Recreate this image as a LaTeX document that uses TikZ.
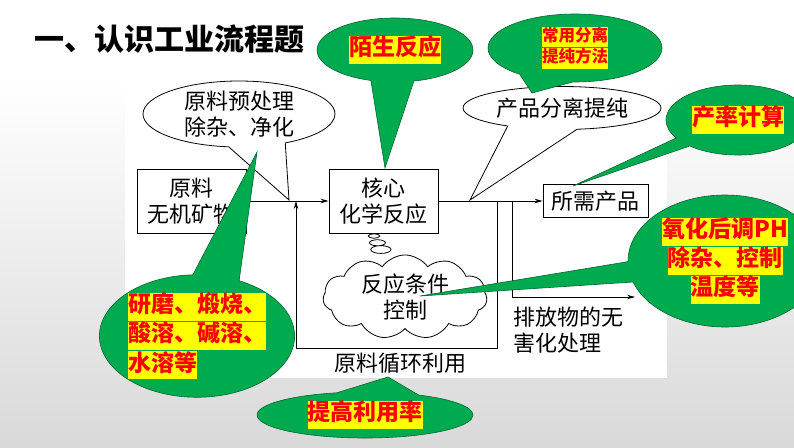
\documentclass[tikz,border=0pt]{standalone}
\usepackage{fontspec}
\newfontfamily\cjk{Noto Sans CJK SC}
\usetikzlibrary{shapes.callouts,shapes.symbols,arrows.meta}
\definecolor{calloutgreen}{RGB}{0,170,78}
\definecolor{hlyellow}{RGB}{255,255,0}
\setlength{\fboxsep}{0pt}
\newcommand{\hlbox}[1]{\colorbox{hlyellow}{\strut #1}}

\begin{document}
\begin{tikzpicture}[x=1pt,y=-1pt,
  flow/.style={font=\cjk\fontsize{22}{26}\selectfont},
  box/.style={flow,draw,line width=0.9pt,inner sep=0pt,align=center,minimum width=109pt,minimum height=64pt},
  line/.style={line width=0.8pt},
  arr/.style={line,-{Stealth[length=8pt,width=4.5pt]}},
  note/.style={flow,ellipse callout,draw,fill=white,line width=0.8pt,inner sep=-4pt,align=center},
  hint/.style={ellipse callout,draw=calloutgreen!60!black,fill=calloutgreen,line width=0.6pt,inner sep=0pt,align=center,text=red,font=\cjk\bfseries\fontsize{23}{27.5}\selectfont},
]
% slide background
\useasboundingbox (0,0) rectangle (794,447);
\fill[white] (0,0) rectangle (794,447);
\shade[top color=white,middle color=black!12,bottom color=black!15] (0,80) rectangle (794,447);
\fill[white] (125,80) rectangle (667,378);

\node[font=\cjk\bfseries\fontsize{30}{36}\selectfont,anchor=west] (title) at (31,39) {一、认识工业流程题};

% flow chart
\node[box] (raw) at (191.5,201) {原料\\无机矿物};
\node[box] (core) at (383.5,201) {核心\\化学反应};
\node[box,minimum width=105pt,minimum height=33pt] (prod) at (595.5,201) {所需产品};

\coordinate (merge) at (296,201);
\coordinate (split) at (497,201);
\coordinate (loop) at (497,348);
\coordinate (fork) at (512,201);
\coordinate (waste) at (635,297);

\draw[arr] (raw) -- (core);
\draw[arr] (core) -- (prod);
\draw[arr] (split) -- (loop) -| (merge);
\draw[arr] (fork) |- (waste);

\node[flow] (reuse) at (400,363) {原料循环利用};
\node[flow,anchor=west,align=left] (treat) at (510,330) {排放物的无\\害化处理};

\coordinate (preTip) at (289,200);
\node[note,minimum width=192pt,minimum height=66pt,callout absolute pointer=(preTip),callout pointer arc=35] (pre) at (239,114) {原料预处理\\除杂、净化};
\coordinate (sepTip) at (470,200);
\node[note,minimum width=198pt,minimum height=43pt,callout absolute pointer=(sepTip),callout pointer arc=42] (sep) at (562,108) {产品分离提纯};

\coordinate (cloudTip) at (374,236);
\node[flow,cloud callout,draw,fill=white,line width=0.8pt,cloud puffs=11,cloud puff arc=110,aspect=2.2,inner sep=0pt,minimum width=164pt,minimum height=75pt,align=center,
  callout absolute pointer=(cloudTip),callout pointer start size=.15 of callout,callout pointer end size=.07 of callout,callout pointer segments=3] (cond) at (405,297) {反应条件\\控制};

% green hints
\coordinate (newTip) at (385,168);
\node[hint,minimum width=156pt,minimum height=64pt,callout absolute pointer=(newTip),callout pointer arc=32] (new) at (395,50) {\hlbox{陌生反应}};

\coordinate (methTip) at (532,93);
\node[hint,font=\cjk\bfseries\fontsize{16.5}{20}\selectfont,minimum width=174pt,minimum height=68pt,callout absolute pointer=(methTip),callout pointer arc=38] (meth) at (575,48) {\hlbox{常用分离}\\\hlbox{提纯方法}};

\coordinate (yieldTip) at (573,186);
\node[hint,minimum width=144pt,minimum height=70pt,callout absolute pointer=(yieldTip),callout pointer arc=17] (yield) at (738,120) {\hlbox{产率计算}};

\coordinate (ctrlTip) at (420,296);
\node[hint,minimum width=194pt,minimum height=132pt,callout absolute pointer=(ctrlTip),callout pointer arc=18] (ctrl) at (725,261) {\hlbox{氧化后调PH}\\\hlbox{除杂、控制}\\\hlbox{温度等}};

\coordinate (prepTip) at (257,152);
\node[hint,align=left,minimum width=194pt,minimum height=116pt,callout absolute pointer=(prepTip),callout pointer arc=28] (prep) at (197,336) {\hlbox{研磨、煅烧、}\\\hlbox{酸溶、碱溶、}\\\hlbox{水溶等}};

\coordinate (rateTip) at (388,377);
\node[hint,minimum width=216pt,minimum height=46pt,callout absolute pointer=(rateTip),callout pointer arc=45] (rate) at (365,415) {\hlbox{提高利用率}};
\end{tikzpicture}
\end{document}
